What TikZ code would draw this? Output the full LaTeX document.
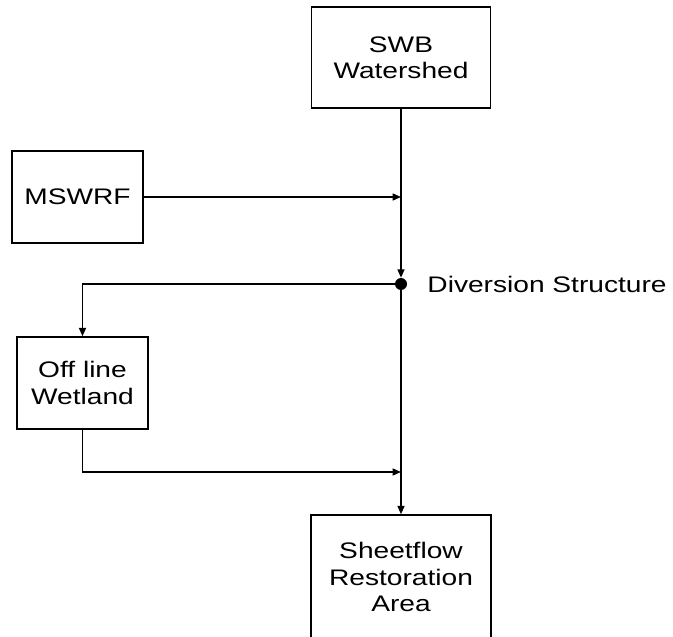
\documentclass[tikz,border=0pt]{standalone}
\usepackage{fontspec}
\setmainfont{Liberation Sans}[FakeStretch=1.25]
\usepackage{tikz}
\usetikzlibrary{arrows.meta, positioning}

\begin{document}
\begin{tikzpicture}[x=0.025cm, y=-0.025cm,
    block/.style={rectangle, draw, line width=1pt, fill=white, text centered, font=\fontsize{16}{18.8}\selectfont},
    arrow/.style={line width=1.1pt,->,>={Triangle[length=6pt,width=5pt]}}]
    \useasboundingbox (0,0) rectangle (673,637);
    \node [block, minimum width=4.475cm, minimum height=2.525cm, align=center] (swb) at (401,57.5) {SWB\\Watershed};
    \node [block, minimum width=3.275cm, minimum height=2.3cm] (mswrf) at (77.5,197) {MSWRF};
    \node [circle, fill, inner sep=0pt, minimum size=0.3cm] (diversion) at (401,284) {};
    \node [right=0.38cm of diversion, font=\fontsize{16}{18.8}\selectfont] (divlabel) {Diversion Structure};
    \node [block, minimum width=3.275cm, minimum height=2.3cm, align=center] (wetland) at (82.5,383) {Off line\\Wetland};
    \node [block, minimum width=4.5cm, minimum height=3.1cm, align=center] (sheetflow) at (401,577) {Sheetflow\\Restoration\\Area};
    \coordinate (join1) at (401,197);
    \coordinate (join2) at (401,472);

    \draw [arrow] (swb) -- (diversion);
    \draw [arrow] (mswrf) -- (join1);
    \draw [arrow] (diversion) -| (wetland);
    \draw [arrow] (wetland) |- (join2);
    \draw [arrow] (diversion) -- (sheetflow);
\end{tikzpicture}
\end{document}
